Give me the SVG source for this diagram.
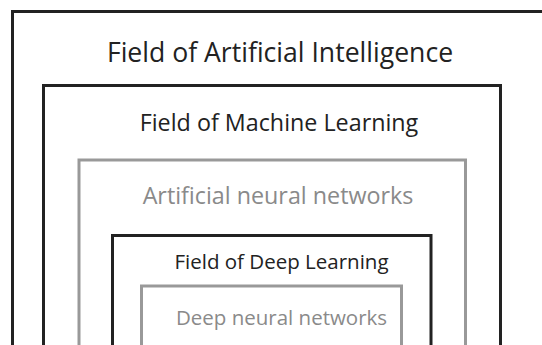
<svg xmlns="http://www.w3.org/2000/svg" width="542" height="345" viewBox="0 0 542 345">
<style>
.dark{fill:none;stroke:#222;stroke-width:3}
.light{fill:none;stroke:#999;stroke-width:3}
text{font-family:"Open Sans","Noto Sans",sans-serif;text-anchor:middle}
.t1{fill:#222}
.t2{fill:#8a8a8a}
</style>
<rect width="542" height="345" fill="#fff"/>
<g id="ai">
<rect class="dark" x="12.5" y="11.5" width="560" height="360"/>
<text class="t1" x="280" y="62" font-size="26.6">Field of Artificial Intelligence</text>
</g>
<g id="ml">
<rect class="dark" x="43.5" y="85.5" width="457" height="290"/>
<text class="t1" x="279" y="130.5" font-size="23.3">Field of Machine Learning</text>
</g>
<g id="ann">
<rect class="light" x="79" y="160" width="386.5" height="220"/>
<text class="t2" x="278" y="204" font-size="23.3">Artificial neural networks</text>
</g>
<g id="dl">
<rect class="dark" x="112.5" y="235.5" width="318.5" height="150"/>
<text class="t1" x="281.5" y="269" font-size="20.5">Field of Deep Learning</text>
</g>
<g id="dnn">
<rect class="light" x="141.5" y="286" width="260" height="100"/>
<text class="t2" x="281.5" y="324.5" font-size="20.5">Deep neural networks</text>
</g>
<g id="connectors"/>
</svg>
